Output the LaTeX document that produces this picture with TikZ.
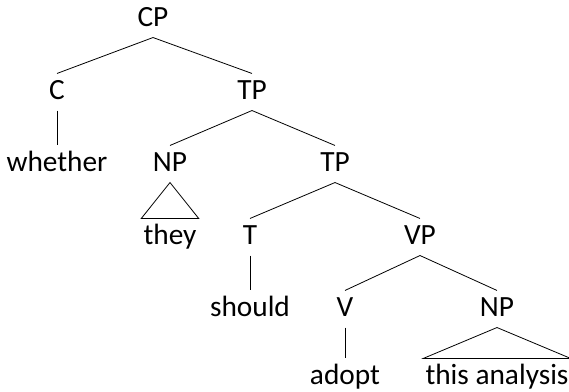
\documentclass[tikz,border=0pt]{standalone}
\usepackage{fontspec}
\setmainfont{Carlito}
\usepackage{tikz}

\begin{document}
\begin{tikzpicture}[
    x=0.75pt, y=-0.75pt,
    cat/.style={inner xsep=1.5pt, inner ysep=5.2pt, text height=14pt, text depth=3pt, font=\fontsize{22}{26}\selectfont},
    branch/.style={line width=0.6pt},
]
    \useasboundingbox (0,0) rectangle (569,392);

    % Top level
    \node[cat] (cp) at (153, 19) {CP};
    \node[cat] (c) at (57, 92) {C};
    \node[cat] (tpa) at (252, 92) {TP};
    \node[cat] (whether) at (57, 164) {whether};

    % Subject
    \node[cat] (npa) at (170, 164) {NP};
    \node[cat] (they) at (170, 237) {they};
    \node[cat] (tpb) at (335, 164) {TP};

    % T and VP
    \node[cat] (t) at (250, 237) {T};
    \node[cat] (should) at (250, 309) {should};
    \node[cat] (vp) at (420, 237) {VP};
    \node[cat] (v) at (345, 309) {V};
    \node[cat] (adopt) at (345, 377) {adopt};
    \node[cat] (npb) at (497, 309) {NP};
    \node[cat] (analysis) at (497, 377) {this analysis};

    % Branches
    \draw[branch] (c.north) -- (cp.south) -- (tpa.north);
    \draw[branch] (c) -- (whether);
    \draw[branch] (npa.north) -- (tpa.south) -- (tpb.north);
    \draw[branch] (t.north) -- (tpb.south) -- (vp.north);
    \draw[branch] (t) -- (should);
    \draw[branch] (v.north) -- (vp.south) -- (npb.north);
    \draw[branch] (v) -- (adopt);

    % Triangles
    \draw[branch] (npa.south) -- (they.north west) -- (they.north east) -- cycle;
    \draw[branch] (npb.south) -- (analysis.north west) -- (analysis.north east) -- cycle;

\end{tikzpicture}
\end{document}
